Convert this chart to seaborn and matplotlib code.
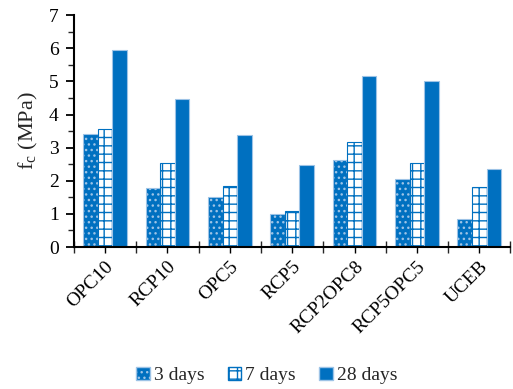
import pandas as pd
import numpy as np
import matplotlib
matplotlib.use('Agg')
import matplotlib.pyplot as plt
from matplotlib.patches import Patch
from matplotlib.ticker import MultipleLocator, FixedLocator
import seaborn as sns

# data
mixes = ['OPC10', 'RCP10', 'OPC5', 'RCP5', 'RCP2OPC8', 'RCP5OPC5', 'UCEB']
ages = ['3 days', '7 days', '28 days']
fc_3d = [3.40, 1.78, 1.50, 0.99, 2.63, 2.05, 0.86]
fc_7d = [3.56, 2.54, 1.84, 1.08, 3.17, 2.54, 1.81]
fc_28d = [5.94, 4.47, 3.38, 2.48, 5.15, 5.00, 2.36]

df = pd.DataFrame({
    'mix': mixes * 3,
    'age': [ages[0]] * 7 + [ages[1]] * 7 + [ages[2]] * 7,
    'fc': fc_3d + fc_7d + fc_28d,
})

blue = '#0070C0'
sns.set_style('white')
plt.rcParams['font.family'] = ['Liberation Serif', 'DejaVu Serif']
plt.rcParams['mathtext.fontset'] = 'custom'
plt.rcParams['mathtext.rm'] = 'Liberation Serif'
plt.rcParams['hatch.linewidth'] = 1.0

fig = plt.figure(figsize=(5.13, 3.89), dpi=100)
ax = fig.add_axes([0.144, 0.365, 0.851, 0.596])

sns.barplot(data=df, x='mix', y='fc', hue='age', order=mixes, hue_order=ages,
            width=0.7, gap=0, palette=[blue, 'white', blue], legend=False, ax=ax)

styles = [
    dict(facecolor=blue, edgecolor='#9dc3e6', hatch='...'),
    dict(facecolor='white', edgecolor=blue, hatch='++'),
    dict(facecolor=blue, edgecolor='#9dc3e6', hatch=None),
]
for cont, st in zip(ax.containers, styles):
    for bar in cont:
        bar.set_facecolor(st['facecolor'])
        bar.set_edgecolor(st['edgecolor'])
        bar.set_hatch(st['hatch'])
        bar.set_linewidth(0.8)

ax.set_ylim(0, 7)
ax.set_xlim(-0.5, len(mixes) - 0.5)
ax.yaxis.set_major_locator(MultipleLocator(1))
ax.yaxis.set_minor_locator(MultipleLocator(0.5))
ax.xaxis.set_minor_locator(FixedLocator(np.arange(-0.5, len(mixes), 1)))

for s in ['top', 'right']:
    ax.spines[s].set_visible(False)
for s in ['left', 'bottom']:
    ax.spines[s].set_color('black')
    ax.spines[s].set_linewidth(1.5)

ax.tick_params(axis='y', which='major', direction='out', length=6, width=1.3,
               left=True, labelsize=14, colors='black', pad=5)
ax.tick_params(axis='y', which='minor', direction='out', length=4, width=1.0, left=True)
ax.tick_params(axis='x', which='major', direction='out', length=4, width=1.0,
               bottom=True, labelsize=14, colors='black', pad=4)
ax.tick_params(axis='x', which='minor', direction='inout', length=9, width=1.0, bottom=True)

plt.setp(ax.get_xticklabels(), rotation=45, ha='right', rotation_mode='anchor')

ax.set_xlabel('')
ax.set_ylabel('f$_\\mathregular{c}$ (MPa)', fontsize=16, labelpad=6)

handles = [Patch(facecolor=st['facecolor'], edgecolor=st['edgecolor'], hatch=st['hatch'])
           for st in styles]
fig.legend(handles, ages, loc='center', bbox_to_anchor=(0.52, 0.035), ncol=3,
           frameon=False, fontsize=14, handlelength=0.7, handleheight=0.7,
           handletextpad=0.2, columnspacing=1.2)

fig.savefig('out.png', dpi=100)
